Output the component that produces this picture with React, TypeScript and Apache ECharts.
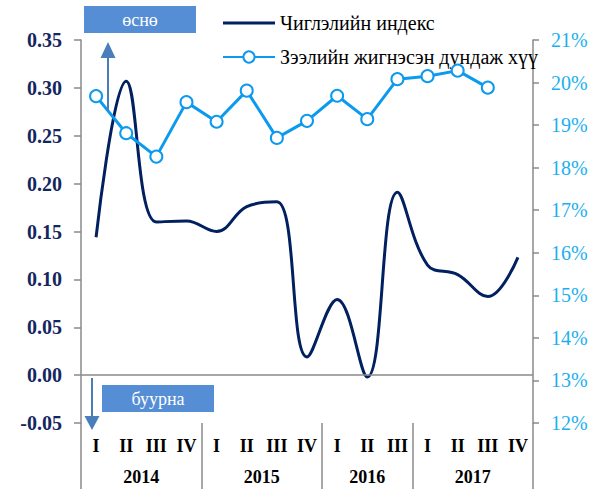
import React, { useEffect, useRef } from "react";
import * as echarts from "echarts";

const quarters = ["I", "II", "III", "IV", "I", "II", "III", "IV", "I", "II", "III", "I", "II", "III", "IV"];
const years = ["2014", "2015", "2016", "2017"];
const quarterCounts = [4, 4, 3, 4];
const indexSeries = [0.144, 0.307, 0.160, 0.161, 0.150, 0.176, 0.181, 0.019, 0.079, -0.002, 0.191, 0.115, 0.105, 0.082, 0.123];
const rateSeries = [19.68, 18.81, 18.26, 19.54, 19.08, 19.81, 18.70, 19.10, 19.69, 19.14, 20.08, 20.15, 20.28, 19.88];
const leftTicks = { min: -0.05, max: 0.35, interval: 0.05 };
const rightTicks = { min: 12, max: 21, interval: 1 };
const seriesNames = ["Чиглэлийн индекс", "Зээлийн жигнэсэн дундаж хүү"];
const boxLabels = ["өснө", "буурна"];

const FONT = "Liberation Serif";
const NAVY = "#002060";
const BLUE = "#0C9AEE";
const AXIS_GRAY = "#8A8A8A";
const BOX = "#558ED5";
const ARROW = "#4A7EBB";

export default function App() {
  const ref = useRef<HTMLDivElement>(null);
  useEffect(() => {
    if (!ref.current) return;
    const chart = echarts.init(ref.current, null, { renderer: "svg" });

    // year axis: half-quarter points, boundaries and centers
    const total = quarterCounts.reduce((a, b) => a + b, 0);
    const yearAxisData: string[] = new Array(total * 2 + 1).fill("");
    const boundaryIdx: number[] = [0];
    let acc = 0;
    quarterCounts.forEach((c, i) => {
      yearAxisData[acc * 2 + c] = years[i];
      acc += c;
      boundaryIdx.push(acc * 2);
    });

    chart.setOption({
      animation: false,
      textStyle: { fontFamily: FONT },
      grid: { left: 81, right: 67, top: 40, bottom: 66, containLabel: false },
      legend: {
        left: 217,
        top: 8,
        orient: "vertical",
        itemWidth: 52,
        itemHeight: 14,
        itemGap: 14,
        textStyle: { fontFamily: FONT, fontSize: 20, color: "#000", lineHeight: 20 },
        data: [
          { name: seriesNames[0], icon: "path://M0,0H52V3H0Z" },
          { name: seriesNames[1] },
        ],
      },
      xAxis: [
        {
          type: "category",
          data: quarters,
          position: "bottom",
          boundaryGap: true,
          axisLine: { show: false, onZero: false },
          axisTick: { show: false },
          axisLabel: {
            interval: 0,
            margin: 14,
            fontFamily: FONT,
            fontSize: 18,
            fontWeight: "bold",
            color: "#000",
          },
        },
        {
          type: "category",
          data: yearAxisData,
          position: "bottom",
          boundaryGap: false,
          axisLine: { show: false, onZero: false },
          axisTick: {
            show: true,
            length: 66,
            interval: (idx: number) => boundaryIdx.indexOf(idx) >= 0,
            lineStyle: { color: AXIS_GRAY, width: 1.5 },
          },
          axisLabel: {
            interval: 0,
            margin: 45,
            fontFamily: FONT,
            fontSize: 18,
            fontWeight: "bold",
            color: "#000",
          },
        },
      ],
      yAxis: [
        {
          type: "value",
          min: leftTicks.min,
          max: leftTicks.max,
          interval: leftTicks.interval,
          position: "left",
          splitLine: { show: false },
          axisLine: { show: true, lineStyle: { color: AXIS_GRAY, width: 1.5 } },
          axisTick: { show: true, length: 7, lineStyle: { color: AXIS_GRAY, width: 1.5 } },
          axisLabel: {
            margin: 19,
            fontFamily: FONT,
            fontSize: 20,
            fontWeight: "bold",
            color: "#14265E",
            formatter: (v: number) => v.toFixed(2),
          },
        },
        {
          type: "value",
          min: rightTicks.min,
          max: rightTicks.max,
          interval: rightTicks.interval,
          position: "right",
          splitLine: { show: false },
          axisLine: { show: true, lineStyle: { color: AXIS_GRAY, width: 1.5 } },
          axisTick: { show: true, length: 6, lineStyle: { color: AXIS_GRAY, width: 1.5 } },
          axisLabel: {
            margin: 18,
            fontFamily: FONT,
            fontSize: 20,
            color: "#1AB0F0",
            formatter: (v: number) => `${v}%`,
          },
        },
      ],
      series: [
        {
          name: seriesNames[0],
          type: "line",
          xAxisIndex: 0,
          yAxisIndex: 0,
          data: indexSeries,
          smooth: 0.4,
          symbol: "none",
          lineStyle: { color: NAVY, width: 3 },
          itemStyle: { color: NAVY },
          markLine: {
            silent: true,
            symbol: ["none", "none"],
            label: { show: false },
            lineStyle: { color: AXIS_GRAY, width: 1.5, type: "solid" },
            data: [{ yAxis: 0 }],
          },
          z: 3,
        },
        {
          name: seriesNames[1],
          type: "line",
          xAxisIndex: 0,
          yAxisIndex: 1,
          data: rateSeries,
          symbol: "emptyCircle",
          symbolSize: 12,
          lineStyle: { color: BLUE, width: 3 },
          itemStyle: { color: BLUE, borderColor: BLUE, borderWidth: 2 },
          z: 4,
        },
      ],
      graphic: [
        {
          type: "rect",
          shape: { x: 84, y: 6, width: 112, height: 27 },
          style: { fill: BOX },
          z: 10,
        },
        {
          type: "text",
          x: 140,
          y: 20,
          style: {
            text: boxLabels[0],
            fill: "#fff",
            fontFamily: FONT,
            fontSize: 18,
            align: "center",
            verticalAlign: "middle",
          },
          z: 11,
        },
        {
          type: "line",
          shape: { x1: 108, y1: 111, x2: 108, y2: 56 },
          style: { stroke: ARROW, lineWidth: 2 },
          z: 10,
        },
        {
          type: "polygon",
          shape: { points: [[100.5, 58], [115.5, 58], [108, 42]] },
          style: { fill: ARROW },
          z: 10,
        },
        {
          type: "rect",
          shape: { x: 102, y: 385, width: 112, height: 27 },
          style: { fill: BOX },
          z: 10,
        },
        {
          type: "text",
          x: 158,
          y: 399,
          style: {
            text: boxLabels[1],
            fill: "#fff",
            fontFamily: FONT,
            fontSize: 18,
            align: "center",
            verticalAlign: "middle",
          },
          z: 11,
        },
        {
          type: "line",
          shape: { x1: 92, y1: 378, x2: 92, y2: 418 },
          style: { stroke: ARROW, lineWidth: 2 },
          z: 10,
        },
        {
          type: "polygon",
          shape: { points: [[84.5, 416], [99.5, 416], [92, 430]] },
          style: { fill: ARROW },
          z: 10,
        },
      ],
    });
    return () => chart.dispose();
  }, []);
  return (
    <div
      ref={ref}
      style={{ position: "fixed", left: 0, top: 0, width: 600, height: 489, background: "#fff" }}
    />
  );
}
